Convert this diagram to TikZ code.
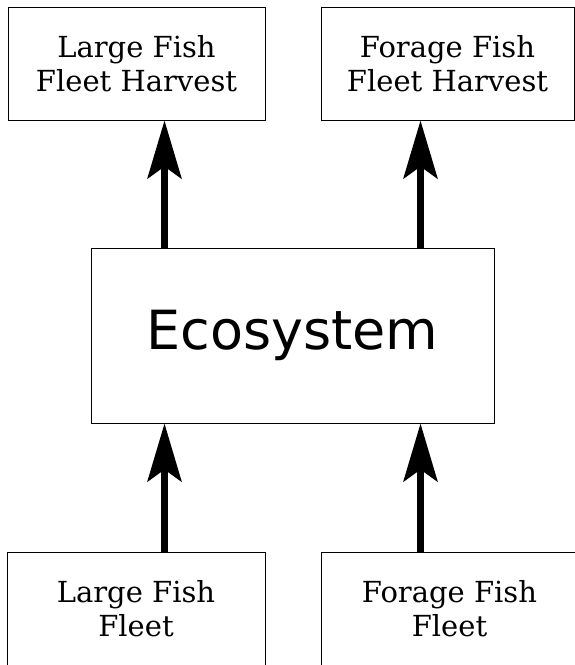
\documentclass[tikz,border=0pt]{standalone}
\usepackage{fontspec}
\setmainfont{DejaVu Serif}
\newfontfamily\ecofont{DejaVu Sans}
\usetikzlibrary{arrows.meta}

\begin{document}
\begin{tikzpicture}[x=1pt,y=-1pt,
  fleetbox/.style={draw,line width=1pt,inner sep=0pt,minimum height=113pt,
    align=center,font=\fontsize{29}{34}\selectfont},
  flow/.style={line width=6.5pt,-{Stealth[length=58pt,width=34pt,inset=12pt]}}]
  \useasboundingbox (0,0) rectangle (575,665);
  \def\tp{63.5}   % top row
  \def\bt{609}    % bottom row
  \def\off{74pt}  % arrow offset from eco sides
  \node[fleetbox,minimum width=257pt] (lfharv) at (136.5,\tp) {Large Fish\\Fleet Harvest};
  \node[fleetbox,minimum width=253pt] (ffharv) at (447.5,\tp) {Forage Fish\\Fleet Harvest};
  \node[draw,line width=1pt,minimum width=403pt,minimum height=175pt,
    font=\ecofont\fontsize{54}{60}\selectfont] (eco) at (292.5,335.5) {Ecosystem};
  \node[fleetbox,minimum width=258pt] (lfleet) at (136,\bt) {Large Fish\\Fleet};
  \node[fleetbox,minimum width=257pt] (ffleet) at (449.5,\bt) {Forage Fish\\Fleet};
  \draw[flow] ([xshift=\off]eco.north west) -- ([xshift=\off]eco.north west |- lfharv.south);
  \draw[flow] ([xshift=-\off]eco.north east) -- ([xshift=-\off]eco.north east |- ffharv.south);
  \draw[flow] ([xshift=\off]eco.south west |- lfleet.north) -- ([xshift=\off]eco.south west);
  \draw[flow] ([xshift=-\off]eco.south east |- ffleet.north) -- ([xshift=-\off]eco.south east);
\end{tikzpicture}
\end{document}
